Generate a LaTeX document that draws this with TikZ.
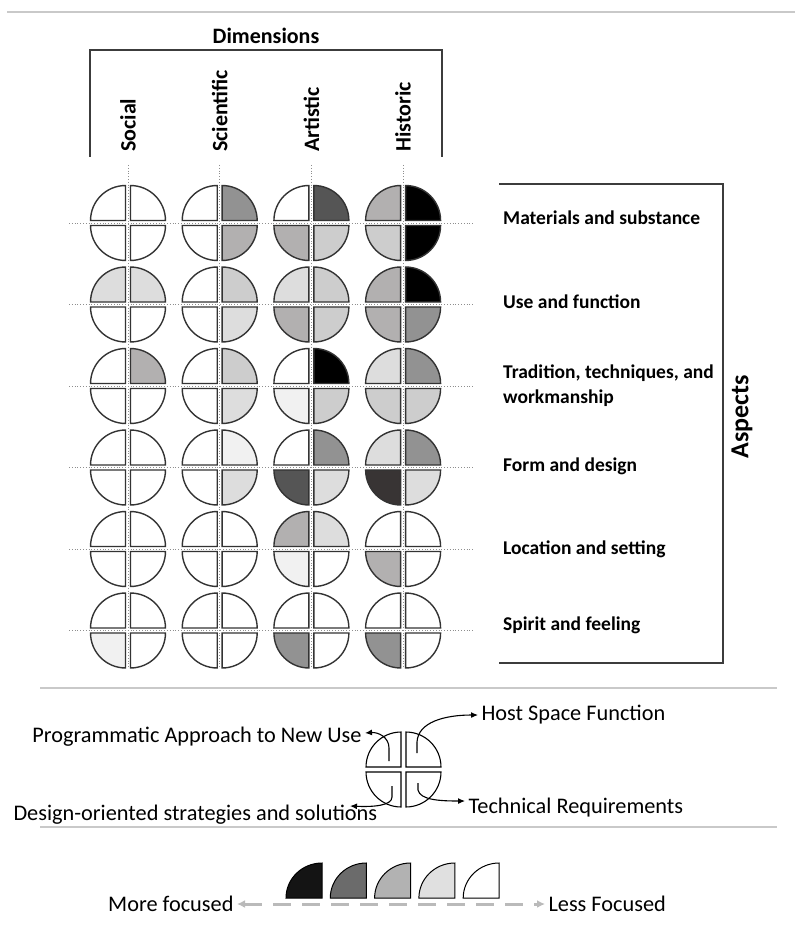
\documentclass[tikz,border=0pt]{standalone}
\usepackage{fontspec}
\setmainfont{Carlito}
\usetikzlibrary{arrows.meta}

\definecolor{q0}{HTML}{FFFFFF}
\definecolor{q1}{HTML}{F1F1F1}
\definecolor{q2}{HTML}{DDDDDD}
\definecolor{q3}{HTML}{CDCDCD}
\definecolor{q4}{HTML}{B2B0B0}
\definecolor{q5}{HTML}{929292}
\definecolor{q6}{HTML}{555555}
\definecolor{q7}{HTML}{383434}
\definecolor{q8}{HTML}{000000}
\definecolor{k1}{HTML}{141414}
\definecolor{k2}{HTML}{6B6B6B}
\definecolor{k3}{HTML}{B2B2B2}
\definecolor{k4}{HTML}{E0E0E0}
\definecolor{k5}{HTML}{FFFFFF}
\definecolor{sepgray}{HTML}{C9C9C9}
\definecolor{framegray}{HTML}{3C3C3C}
\definecolor{dotgray}{HTML}{8E8E8E}
\definecolor{arrowgray}{HTML}{BABABA}

\tikzset{
  quartline/.style={draw=black!80,line width=1.4pt},
  keyquart/.style={draw=black,line width=1.1pt},
  bracket/.style={draw=framegray,line width=1.3pt},
  sepline/.style={draw=sepgray,line width=1.6pt},
  guide/.style={draw=dotgray,dotted,line width=0.8pt},
  headtext/.style={font=\bfseries\fontsize{22}{26}\selectfont},
  rowtext/.style={font=\bfseries\fontsize{19.5}{25}\selectfont,anchor=west,align=left,inner sep=0pt},
  keytext/.style={font=\fontsize{22.3}{26}\selectfont},
  keyarrow/.style={-{Latex[length=7pt,width=6pt]},line width=1.1pt},
  scalearrow/.style={{Latex[length=8pt,width=8pt]}-{Latex[length=8pt,width=8pt]},draw=arrowgray,line width=3pt,dash pattern=on 18pt off 11pt}
}

% one quarter: centre x, centre y, start angle, fill
\newcommand{\quart}[5][quartline]{%
  \filldraw[#1,fill=#5,shift={(#2,#3)}] (#4+45:3.5) -- ++(#4:35)
    arc[start angle=#4,end angle=#4+90,radius=35] -- cycle;}

\begin{document}
\begin{tikzpicture}[x=1pt,y=-1pt]
\useasboundingbox (0,0) rectangle (795,949);

\draw[sepline] (7,12) -- (795,12);
\draw[sepline] (40,688) -- (777,688);
\draw[sepline] (40,827) -- (777,827);

\node[headtext] (dim) at (266,36) {Dimensions};
\draw[bracket] (90,157) -- (90,50) -- (442,50) -- (442,157);
\foreach \name/\col/\txt in {soc/1/Social,sci/2/Scientific,art/3/Artistic,his/4/Historic}
  \node[headtext,rotate=90,anchor=west,inner sep=1pt] (\name) at ({128+91.7*(\col-1)},153) {\txt};

\foreach \col in {1,...,4}
  \draw[guide] ({128+91.7*(\col-1)},165) -- ({128+91.7*(\col-1)},668);
\foreach \row in {1,...,6}
  \draw[guide] (69,{223+81.5*(\row-1)}) -- (473,{223+81.5*(\row-1)});

\foreach \row/\col/\fa/\fb/\fc/\fd in {
  1/1/q0/q0/q0/q0, 1/2/q0/q5/q0/q4, 1/3/q0/q6/q4/q3, 1/4/q4/q8/q3/q8,
  2/1/q2/q2/q0/q0, 2/2/q0/q3/q0/q2, 2/3/q2/q3/q4/q3, 2/4/q4/q8/q4/q5,
  3/1/q0/q4/q0/q0, 3/2/q0/q3/q0/q2, 3/3/q0/q8/q1/q3, 3/4/q2/q5/q3/q3,
  4/1/q0/q0/q0/q0, 4/2/q0/q1/q0/q2, 4/3/q0/q5/q6/q2, 4/4/q2/q5/q7/q2,
  5/1/q0/q0/q0/q0, 5/2/q0/q0/q0/q0, 5/3/q4/q2/q1/q0, 5/4/q0/q0/q4/q0,
  6/1/q0/q0/q1/q0, 6/2/q0/q0/q0/q0, 6/3/q0/q0/q5/q0, 6/4/q0/q0/q5/q0}
{
  \pgfmathsetmacro{\cx}{128+91.7*(\col-1)}
  \pgfmathsetmacro{\cy}{223+81.5*(\row-1)}
  \quart{\cx}{\cy}{180}{\fa}
  \quart{\cx}{\cy}{270}{\fb}
  \quart{\cx}{\cy}{90}{\fc}
  \quart{\cx}{\cy}{0}{\fd}
}

\draw[bracket] (499,184) -- (723,184) -- (723,663) -- (499,663);
\node[headtext,font=\bfseries\fontsize{26}{30}\selectfont,rotate=90] (asp) at (742,417) {Aspects};
\node[rowtext] (mat) at (503,218) {Materials and substance};
\node[rowtext] (use) at (503,302) {Use and function};
\node[rowtext] (trad) at (503,386) {Tradition, techniques, and\\workmanship};
\node[rowtext] (form) at (503,466) {Form and design};
\node[rowtext] (loc) at (503,549) {Location and setting};
\node[rowtext] (spir) at (503,625) {Spirit and feeling};

\quart[keyquart]{403.5}{769.5}{180}{white}
\quart[keyquart]{403.5}{769.5}{270}{white}
\quart[keyquart]{403.5}{769.5}{90}{white}
\quart[keyquart]{403.5}{769.5}{0}{white}
\coordinate (tlq) at (389,761);
\coordinate (trq) at (417,753);
\coordinate (blq) at (392,786);
\coordinate (brq) at (418,783);
\node[keytext,anchor=east] (prog) at (365,737) {Programmatic Approach to New Use};
\node[keytext,anchor=west] (host) at (478,715) {Host Space Function};
\node[keytext,anchor=west] (desi) at (10,815) {Design-oriented strategies and solutions};
\node[keytext,anchor=west] (tech) at (465,808) {Technical Requirements};
\coordinate (desiend) at (350,806);
\draw[keyarrow] (tlq) -- (389,748) .. controls (389,737) and (378,732) .. ([yshift=4pt]prog.east);
\draw[keyarrow] (trq) -- (417,742) .. controls (418,722) and (445,715) .. (host.west);
\draw[keyarrow] (blq) -- (392,797) .. controls (392,806) and (372,807) .. (desiend);
\draw[keyarrow] (brq) -- (418,790) .. controls (420,800) and (440,801) .. ([yshift=7pt]tech.west);

\foreach \i/\shade in {0/k1,1/k2,2/k3,3/k4,4/k5}
  \filldraw[fill=\shade,draw=black,line width=1pt] ({322+44.3*\i},898) -- ++(-36,0)
    arc[start angle=180,end angle=270,x radius=36,y radius=35] -- cycle;
\node[keytext,anchor=east] (more) at (237,904) {More focused};
\node[keytext,anchor=west] (less) at (545,904) {Less Focused};
\draw[scalearrow] (more) -- (less);
\end{tikzpicture}
\end{document}
